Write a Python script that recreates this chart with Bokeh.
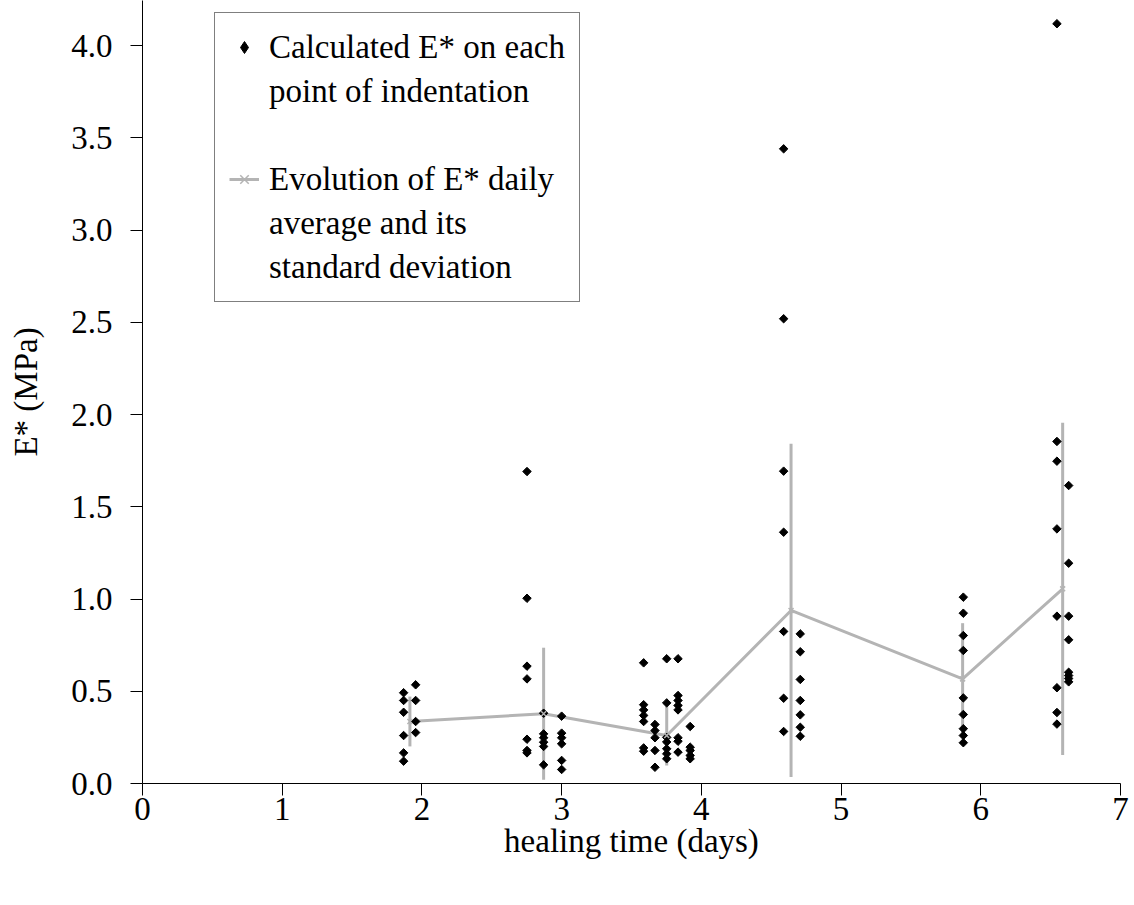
import math
from bokeh.plotting import figure
from bokeh.models import FixedTicker, NumeralTickFormatter, Legend, LegendItem, Range1d
from bokeh.embed import file_html
from bokeh.resources import INLINE

# individual indentation points (healing time in days, E* in MPa)
pts_day = (
    [1.869] * 6 + [1.955] * 4
    + [2.752] * 7 + [2.871] * 6 + [3.000] * 6
    + [3.587] * 7 + [3.668] * 5 + [3.752] * 7 + [3.833] * 8 + [3.920] * 5
    + [4.589] * 7 + [4.708] * 7
    + [5.875] * 9
    + [6.545] * 8 + [6.629] * 8
)
pts_E = (
    [0.492, 0.450, 0.386, 0.260, 0.166, 0.121]
    + [0.535, 0.450, 0.336, 0.276]
    + [1.691, 1.004, 0.636, 0.567, 0.240, 0.179, 0.166]
    + [0.381, 0.269, 0.248, 0.224, 0.201, 0.101]
    + [0.365, 0.273, 0.248, 0.215, 0.125, 0.076]
    + [0.654, 0.427, 0.399, 0.369, 0.336, 0.193, 0.175]
    + [0.320, 0.287, 0.248, 0.179, 0.088]
    + [0.676, 0.437, 0.250, 0.225, 0.188, 0.161, 0.134]
    + [0.676, 0.477, 0.450, 0.423, 0.399, 0.248, 0.229, 0.170]
    + [0.309, 0.197, 0.179, 0.152, 0.134]
    + [3.440, 2.519, 1.693, 1.362, 0.824, 0.462, 0.282]
    + [0.811, 0.714, 0.564, 0.450, 0.372, 0.305, 0.256]
    + [1.010, 0.923, 0.802, 0.721, 0.464, 0.374, 0.297, 0.260, 0.221]
    + [4.118, 1.854, 1.747, 1.380, 0.907, 0.519, 0.385, 0.322]
    + [1.615, 1.194, 0.907, 0.779, 0.603, 0.585, 0.569, 0.551]
)

# daily averages and standard deviations
mean_day = [1.914, 2.871, 3.752, 4.642, 5.870, 6.586]
mean_E = [0.336, 0.378, 0.260, 0.938, 0.567, 1.055]
sd_E = [0.135, 0.358, 0.163, 0.903, 0.302, 0.900]

x_ticks = [0, 1, 2, 3, 4, 5, 6, 7]
y_ticks = [0.0, 0.5, 1.0, 1.5, 2.0, 2.5, 3.0, 3.5, 4.0]

legend_lines_pts = ["Calculated E* on each", "point of indentation"]
legend_lines_avg = ["Evolution of E* daily", "average and its", "standard deviation"]

err_lo = [max(0.0, m - s) for m, s in zip(mean_E, sd_E)]
err_hi = [m + s for m, s in zip(mean_E, sd_E)]

GRAY = "#b4b4b4"
FONT = "Liberation Serif"
FS = "33px"

p = figure(
    frame_width=978, frame_height=783,
    x_range=Range1d(0, 7), y_range=Range1d(0, 4.244),
    output_backend="svg", toolbar_location=None,
    min_border_left=142, min_border_top=0, min_border_right=10, min_border_bottom=70,
)
p.outline_line_color = None
p.xgrid.visible = False
p.ygrid.visible = False
p.background_fill_color = "white"
p.border_fill_color = "white"

seg = p.segment(x0=mean_day, y0=err_lo, x1=mean_day, y1=err_hi, line_color=GRAY, line_width=3)
ln = p.line(mean_day, mean_E, line_color=GRAY, line_width=3)
pts = p.scatter(pts_day, pts_E, marker="square", angle=math.pi / 4, size=6,
                fill_color="black", line_color="black")
# diamond swatch for the legend: a tiny diamond hidden inside the first data point
leg_diamond = p.scatter(pts_day[:1], pts_E[:1], marker="diamond", size=4,
                        fill_color="black", line_color="black")
mk = p.scatter(mean_day, mean_E, marker="x", size=7, line_color=GRAY, line_width=1.5)
leg_blank = p.scatter(pts_day[:1], pts_E[:1], marker="circle", size=1,
                      fill_alpha=0, line_alpha=0)

for ax in (p.xaxis[0], p.yaxis[0]):
    ax.axis_line_color = "black"
    ax.axis_line_width = 1
    ax.major_tick_line_color = "black"
    ax.major_tick_in = 0
    ax.major_tick_out = 12
    ax.minor_tick_line_color = None
    ax.major_label_text_font = FONT
    ax.major_label_text_font_size = FS
    ax.major_label_text_color = "black"
    ax.axis_label_text_font = FONT
    ax.axis_label_text_font_size = FS
    ax.axis_label_text_font_style = "normal"
    ax.axis_label_text_color = "black"

p.xaxis[0].ticker = FixedTicker(ticks=x_ticks)
p.yaxis[0].ticker = FixedTicker(ticks=y_ticks)
p.yaxis[0].formatter = NumeralTickFormatter(format="0.0")
p.xaxis[0].axis_label = "healing time (days)"
p.yaxis[0].axis_label = "E* (MPa)"
p.xaxis[0].major_label_standoff = 2
p.xaxis[0].axis_label_standoff = 0
p.yaxis[0].major_label_standoff = 18
p.yaxis[0].axis_label_standoff = 24

items = [
    LegendItem(label=legend_lines_pts[0], renderers=[leg_diamond]),
    LegendItem(label=legend_lines_pts[1], renderers=[leg_blank]),
    LegendItem(label=" ", renderers=[leg_blank]),
    LegendItem(label=legend_lines_avg[0], renderers=[ln, mk]),
    LegendItem(label=legend_lines_avg[1], renderers=[leg_blank]),
    LegendItem(label=legend_lines_avg[2], renderers=[leg_blank]),
]
legend = Legend(items=items, location=(72, 481))
legend.label_text_font = FONT
legend.label_text_font_size = FS
legend.label_text_color = "black"
legend.label_height = 40
legend.glyph_width = 30
legend.glyph_height = 40
legend.label_standoff = 10
legend.padding = 14
legend.spacing = 4
legend.margin = 0
legend.border_line_color = "black"
legend.border_line_width = 1
legend.background_fill_color = "white"
legend.background_fill_alpha = 1
p.add_layout(legend, "center")

open("out.html", "w").write(file_html(p, INLINE))
